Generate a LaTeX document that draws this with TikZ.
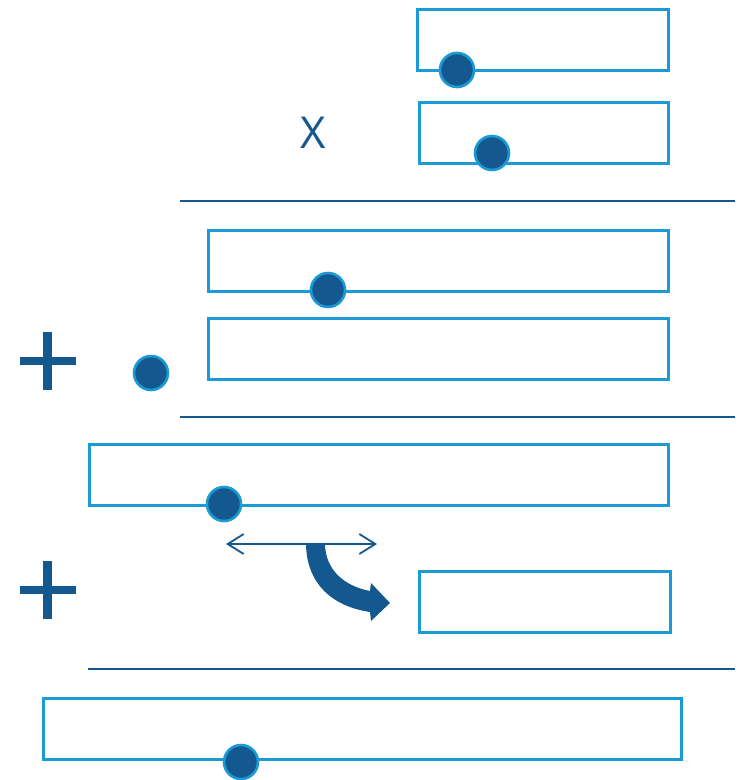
\documentclass[tikz,border=0pt]{standalone}
\usepackage{fontspec}
\setsansfont{Open Sans}
\usetikzlibrary{arrows.meta}
\definecolor{lightblue}{HTML}{1C9AD6}
\definecolor{darkblue}{HTML}{13598F}
\tikzset{
  box/.style={draw=lightblue, line width=2.6pt, fill=white, inner sep=0pt,
              anchor=north west},
  dot/.style={circle, draw=lightblue, line width=2.6pt, fill=darkblue,
              minimum size=34pt, inner sep=0pt},
  rule/.style={draw=darkblue, line width=2pt},
  plusbar/.style={draw=darkblue, line width=8.5pt},
  swap/.style={draw=darkblue, line width=1.8pt,
               {Straight Barb[length=16pt,width=20pt]}-{Straight Barb[length=16pt,width=20pt]}},
}
\begin{document}
\begin{tikzpicture}[x=1pt, y=-1pt]
  \useasboundingbox (0,0) rectangle (741,780);

  % first block: two factors
  \node[box, minimum width=251pt, minimum height=61pt] (b1) at (416,8) {};
  \node[dot] (d1) at (457,70) {};
  \node[box, minimum width=249pt, minimum height=61pt] (b2) at (418,101) {};
  \node[dot] (d2) at (492,153) {};
  \node[text=darkblue, font=\sffamily\fontsize{44}{44}\selectfont] (times) at (313,133) {X};

  \coordinate (r1a) at (180,201);
  \coordinate (r1b) at (735,201);
  \draw[rule] (r1a) -- (r1b);

  % second block
  \node[box, minimum width=460pt, minimum height=61pt] (b3) at (207,229) {};
  \node[dot] (d3) at (328,290) {};
  \node[box, minimum width=460pt, minimum height=61pt] (b4) at (207,317) {};
  \coordinate (p1) at (47.5,361);
  \draw[plusbar] ([yshift=-29pt]p1) -- ([yshift=29pt]p1);
  \draw[plusbar] ([xshift=-28pt]p1) -- ([xshift=28pt]p1);
  \node[dot] (d4) at (151,373) {};

  \coordinate (r2a) at (180,417);
  \coordinate (r2b) at (735,417);
  \draw[rule] (r2a) -- (r2b);

  % third block
  \node[box, minimum width=579pt, minimum height=61pt] (b5) at (88,443) {};
  \node[dot] (d5) at (224,504) {};
  \coordinate (sl) at (226,544);
  \coordinate (sr) at (377,544);
  \draw[swap] (sl) -- (sr);
  % bent shift arrow
  \fill[darkblue] (306,545) .. controls (307,582) and (330,606) .. (370,612)
        -- (371,621) -- (390,603) -- (371,583) -- (370,591)
        .. controls (344,586) and (326,570) .. (325,545) -- cycle;
  \coordinate (p2) at (47.5,590);
  \draw[plusbar] ([yshift=-29pt]p2) -- ([yshift=29pt]p2);
  \draw[plusbar] ([xshift=-28pt]p2) -- ([xshift=28pt]p2);
  \node[box, minimum width=251pt, minimum height=61pt] (b6) at (418,570) {};

  \coordinate (r3a) at (88,669);
  \coordinate (r3b) at (735,669);
  \draw[rule] (r3a) -- (r3b);

  % result
  \node[box, minimum width=638pt, minimum height=61pt] (b7) at (42,697) {};
  \node[dot] (d7) at (241,762) {};
\end{tikzpicture}
\end{document}
